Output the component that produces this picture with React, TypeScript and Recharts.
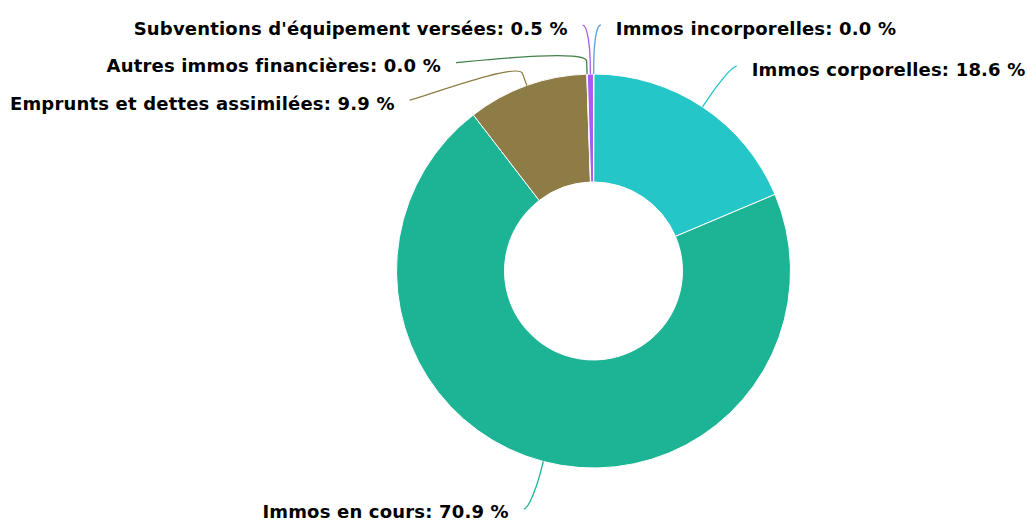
import React from "react";
import { PieChart, Pie, Cell } from "recharts";

const categories = [
  "Immos incorporelles",
  "Immos corporelles",
  "Immos en cours",
  "Emprunts et dettes assimilées",
  "Autres immos financières",
  "Subventions d'équipement versées",
];
const values = [0.04, 18.6, 70.9, 9.9, 0.04, 0.5];
const colors = ["#5a9fdc", "#24c6c8", "#1cb494", "#8d7c45", "#44804a", "#a95cf2"];

const data = categories.map((name, i) => ({ name, value: values[i] }));

const CX = 593.5;
const CY = 271;
const OUTER = 197;
const INNER = 89;
const LABEL_DIST = 49;
const LABEL_PAD = 7;
const CONNECTOR_OFFSET = 13;
const TEXT_GAP = 15;
const SLOT = 37.5;
const FONT_SIZE = 18;

type Lab = { lx: number; ly: number; left: boolean; mid: number };

function computeLayout(cx: number, cy: number, R: number): Lab[] {
  const total = values.reduce((a, b) => a + b, 0);
  let cum = 0;
  const rl = R + LABEL_DIST;
  const items = values.map((v, i) => {
    const start = 90 - (cum / total) * 360;
    const end = start - (v / total) * 360;
    cum += v;
    const mid = (start + end) / 2;
    const rad = (mid * Math.PI) / 180;
    const left = Math.cos(rad) < 0;
    const ny = cy - rl * Math.sin(rad);
    return { i, mid, left, ny };
  });
  const out: Lab[] = new Array(values.length);
  [true, false].forEach((side) => {
    const group = items.filter((it) => it.left === side).sort((a, b) => a.ny - b.ny);
    let prev = -Infinity;
    group.forEach((it) => {
      const y = Math.max(it.ny, prev + SLOT);
      prev = y;
      const dy = y - cy;
      const dx = Math.sqrt(Math.max(0, rl * rl - dy * dy)) + LABEL_PAD;
      out[it.i] = { lx: side ? cx - dx : cx + dx, ly: y, left: side, mid: it.mid };
    });
  });
  return out;
}

const renderLabel = (props: any) => {
  const { cx, cy, outerRadius, index, percent, name } = props;
  const layout = computeLayout(cx, cy, outerRadius);
  const l = layout[index];
  const rad = (l.mid * Math.PI) / 180;
  const tx = cx + outerRadius * Math.cos(rad);
  const ty = cy - outerRadius * Math.sin(rad);
  const bx = cx + (outerRadius + CONNECTOR_OFFSET) * Math.cos(rad);
  const by = cy - (outerRadius + CONNECTOR_OFFSET) * Math.sin(rad);
  const c1x = l.lx + (l.left ? 5 : -5);
  const d = `M ${l.lx} ${l.ly} C ${c1x} ${l.ly} ${2 * bx - tx} ${2 * by - ty} ${bx} ${by} L ${tx} ${ty}`;
  const color = colors[index];
  return (
    <g key={`lab-${index}`}>
      <path d={d} fill="none" stroke={color} strokeWidth={1.3} />
      <text
        x={l.left ? l.lx - TEXT_GAP : l.lx + TEXT_GAP}
        y={l.ly + 3}
        textAnchor={l.left ? "end" : "start"}
        dominantBaseline="central"
        fontFamily="DejaVu Sans"
        fontWeight="bold"
        fontSize={FONT_SIZE}
        letterSpacing={0.18}
        fill="#000"
      >
        {`${name}: ${(percent * 100).toFixed(1)} %`}
      </text>
    </g>
  );
};

export default function App() {
  return (
    <div style={{ position: "absolute", left: 0, top: 0, width: 1027, height: 520, background: "#fff" }}>
      <PieChart width={1027} height={520} margin={{ top: 0, right: 0, bottom: 0, left: 0 }}>
        <Pie
          data={data}
          dataKey="value"
          nameKey="name"
          cx={CX}
          cy={CY}
          innerRadius={INNER}
          outerRadius={OUTER}
          startAngle={90}
          endAngle={-270}
          stroke="#ffffff"
          strokeWidth={1}
          label={renderLabel}
          labelLine={false}
          isAnimationActive={false}
        >
          {data.map((d, i) => (
            <Cell key={d.name} fill={colors[i]} />
          ))}
        </Pie>
      </PieChart>
    </div>
  );
}
